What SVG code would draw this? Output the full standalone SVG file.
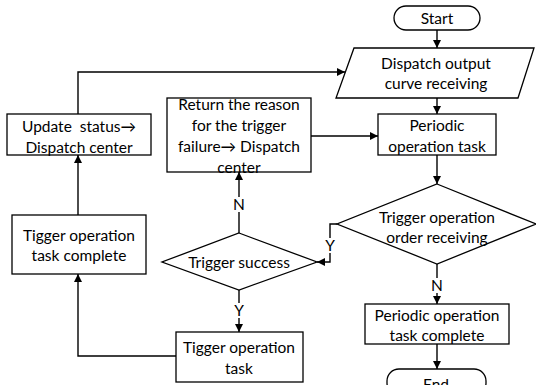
<svg xmlns="http://www.w3.org/2000/svg" width="536" height="385" viewBox="0 0 536 385">
  <defs>
    <marker id="arrow" viewBox="0 0 10 10" refX="10" refY="5" markerWidth="8" markerHeight="8" markerUnits="userSpaceOnUse" orient="auto">
      <path d="M0,0 L10,5 L0,10 Z" fill="#000"/>
    </marker>
    <style>
      .shape { fill: #fff; stroke: #000; stroke-width: 1.3; }
      .line { fill: none; stroke: #000; stroke-width: 1.4; marker-end: url(#arrow); }
      text { font-family: "Lato", "Liberation Sans", "DejaVu Sans", sans-serif; font-size: 15.5px; fill: #000; text-anchor: middle; white-space: pre; }
      .lbl-bg { fill: #fff; }
    </style>
  </defs>
  <rect width="536" height="385" fill="#fff"/>

  <!-- connectors -->
  <g id="connectors">
    <path class="line" d="M437,30 L437,48"/>
    <path class="line" d="M437,98 L437,114"/>
    <path class="line" d="M437,155 L437,184"/>
    <path class="line" d="M337,224 L330,224 L330,262 L317,262"/>
    <path class="line" d="M437,264 L437,304"/>
    <path class="line" d="M437,344 L437,369"/>
    <path class="line" d="M239,233 L239,172"/>
    <path class="line" d="M239,290 L239,332"/>
    <path class="line" d="M176,356 L78,356 L78,274"/>
    <path class="line" d="M78,215 L78,155"/>
    <path class="line" d="M78,114 L78,72 L345,72"/>
    <path class="line" d="M311,136 L378,136"/>
    <!-- branch labels -->
    <rect class="lbl-bg" x="233" y="197" width="12" height="15"/>
    <text x="239" y="210">N</text>
    <rect class="lbl-bg" x="233" y="303" width="12" height="15"/>
    <text x="239" y="316">Y</text>
    <rect class="lbl-bg" x="325" y="238" width="10" height="15"/>
    <text x="330" y="251">Y</text>
    <rect class="lbl-bg" x="431" y="278" width="12" height="15"/>
    <text x="437" y="291">N</text>
  </g>

  <g id="start">
    <rect class="shape" x="394" y="6" width="86" height="24" rx="12"/>
    <text x="437" y="24">Start</text>
  </g>

  <g id="dispatch-curve">
    <polygon class="shape" points="354,48 534,48 518,98 336,98"/>
    <text x="436" y="68.5">Dispatch output</text>
    <text x="436" y="89">curve receiving</text>
  </g>

  <g id="periodic-task">
    <rect class="shape" x="378" y="114" width="118" height="41"/>
    <text x="437" y="130.5">Periodic</text>
    <text x="437" y="151.5">operation task</text>
  </g>

  <g id="order-decision">
    <polygon class="shape" points="437,184 536,224 437,264 337,224"/>
    <text x="437" y="222.5">Trigger operation</text>
    <text x="437" y="242.5">order receiving</text>
  </g>

  <g id="periodic-complete">
    <rect class="shape" x="365" y="304" width="144" height="40"/>
    <text x="437" y="320.5">Periodic operation</text>
    <text x="437" y="340.5">task complete</text>
  </g>

  <g id="end">
    <rect class="shape" x="387" y="369" width="99" height="26" rx="12"/>
    <text x="436" y="390">End</text>
  </g>

  <g id="success-decision">
    <polygon class="shape" points="239,233 317,262 239,290 162,262"/>
    <text x="239" y="267.5">Trigger success</text>
  </g>

  <g id="trigger-task">
    <rect class="shape" x="176" y="332" width="127" height="50"/>
    <text x="239" y="352.5">Tigger operation</text>
    <text x="239" y="373.5">task</text>
  </g>

  <g id="failure-report">
    <rect class="shape" x="167" y="98" width="144" height="74"/>
    <text x="239" y="109.5">Return the reason</text>
    <text x="239" y="130.5">for the trigger</text>
    <text x="239" y="151.5">failure→ Dispatch</text>
    <text x="239" y="172.5">center</text>
  </g>

  <g id="trigger-complete">
    <rect class="shape" x="12" y="215" width="134" height="59"/>
    <text x="79" y="240.5">Tigger operation</text>
    <text x="79" y="260.5">task complete</text>
  </g>

  <g id="update-status">
    <rect class="shape" x="7" y="114" width="144" height="41"/>
    <text x="79" y="131.5">Update  status→</text>
    <text x="79" y="152.5">Dispatch center</text>
  </g>
</svg>
